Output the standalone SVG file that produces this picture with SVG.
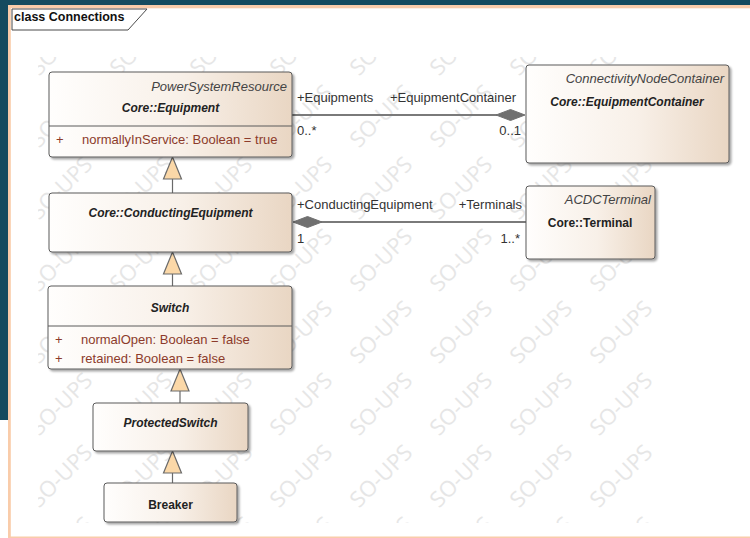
<svg xmlns="http://www.w3.org/2000/svg" xmlns:xlink="http://www.w3.org/1999/xlink" width="750" height="538" viewBox="0 0 750 538">
<style>
text{font-family:"Liberation Sans",Arial,sans-serif;}
.wm{font-family:"Open Sans","Liberation Sans",sans-serif;font-size:22px;fill:#e6e6e6;}
.box{fill:url(#g);stroke:#5a5a5a;stroke-width:1;filter:url(#sh);}
.sep{stroke:#5a5a5a;stroke-width:1;}
.name{font-size:12px;font-weight:bold;font-style:italic;fill:#222;text-anchor:middle;}
.nameu{font-size:12px;font-weight:bold;fill:#222;text-anchor:middle;}
.par{font-size:13px;font-style:italic;fill:#444;text-anchor:end;}
.attr{font-size:13px;fill:#8c3b2b;}
.lbl{font-size:13px;fill:#333;}
.assoc{stroke:#7a7a7a;stroke-width:2;fill:none;}
.dia{fill:#707070;stroke:#707070;stroke-width:1;}
.gen{stroke:#6a6a6a;stroke-width:1.2;fill:none;}
.tri{fill:#fbd8a8;stroke:#6a6a6a;stroke-width:1.2;}
</style>
<defs>
<linearGradient id="g" x1="0" y1="0" x2="1" y2="0">
<stop offset="0" stop-color="#fffefd"/>
<stop offset="0.55" stop-color="#f8f0e8"/>
<stop offset="1" stop-color="#e9d6c3"/>
</linearGradient>
<filter id="sh" x="-10%" y="-10%" width="130%" height="140%">
<feDropShadow dx="2" dy="2" stdDeviation="1.3" flood-color="#000" flood-opacity="0.35"/>
</filter>
<clipPath id="wc"><rect x="38" y="57" width="627" height="466"/></clipPath>
<text id="wm" class="wm" x="0" y="0" text-anchor="middle" dominant-baseline="central" transform="rotate(-45)">SO-UPS</text>
</defs>
<rect x="0" y="0" width="750" height="538" fill="#ffffff"/>
<rect x="0" y="0" width="750" height="5" fill="#154b5f"/>
<rect x="0" y="0" width="8" height="420" fill="#154b5f"/>
<rect x="8" y="5" width="742" height="3.3" fill="#f9ccaa"/>
<rect x="8" y="5" width="2.8" height="533" fill="#f9ccaa"/>
<rect x="8" y="536.5" width="742" height="1.5" fill="#f9ccaa"/>
<g id="frame">
<path d="M12,9 H147 L128,30 H12 Z" fill="#ffffff" stroke="#4a4a4a" stroke-width="1"/>
<text x="14" y="21" font-size="12.5" font-weight="bold" fill="#111">class Connections</text>
</g>
<g id="watermark" clip-path="url(#wc)">
<use xlink:href="#wm" x="60" y="43"/><use xlink:href="#wm" x="140" y="43"/><use xlink:href="#wm" x="220" y="43"/><use xlink:href="#wm" x="300" y="43"/><use xlink:href="#wm" x="380" y="43"/><use xlink:href="#wm" x="460" y="43"/><use xlink:href="#wm" x="540" y="43"/><use xlink:href="#wm" x="620" y="43"/>
<use xlink:href="#wm" x="60" y="115"/><use xlink:href="#wm" x="140" y="115"/><use xlink:href="#wm" x="220" y="115"/><use xlink:href="#wm" x="300" y="115"/><use xlink:href="#wm" x="380" y="115"/><use xlink:href="#wm" x="460" y="115"/><use xlink:href="#wm" x="540" y="115"/><use xlink:href="#wm" x="620" y="115"/>
<use xlink:href="#wm" x="60" y="187"/><use xlink:href="#wm" x="140" y="187"/><use xlink:href="#wm" x="220" y="187"/><use xlink:href="#wm" x="300" y="187"/><use xlink:href="#wm" x="380" y="187"/><use xlink:href="#wm" x="460" y="187"/><use xlink:href="#wm" x="540" y="187"/><use xlink:href="#wm" x="620" y="187"/>
<use xlink:href="#wm" x="60" y="259"/><use xlink:href="#wm" x="140" y="259"/><use xlink:href="#wm" x="220" y="259"/><use xlink:href="#wm" x="300" y="259"/><use xlink:href="#wm" x="380" y="259"/><use xlink:href="#wm" x="460" y="259"/><use xlink:href="#wm" x="540" y="259"/><use xlink:href="#wm" x="620" y="259"/>
<use xlink:href="#wm" x="60" y="331"/><use xlink:href="#wm" x="140" y="331"/><use xlink:href="#wm" x="220" y="331"/><use xlink:href="#wm" x="300" y="331"/><use xlink:href="#wm" x="380" y="331"/><use xlink:href="#wm" x="460" y="331"/><use xlink:href="#wm" x="540" y="331"/><use xlink:href="#wm" x="620" y="331"/>
<use xlink:href="#wm" x="60" y="403"/><use xlink:href="#wm" x="140" y="403"/><use xlink:href="#wm" x="220" y="403"/><use xlink:href="#wm" x="300" y="403"/><use xlink:href="#wm" x="380" y="403"/><use xlink:href="#wm" x="460" y="403"/><use xlink:href="#wm" x="540" y="403"/><use xlink:href="#wm" x="620" y="403"/>
<use xlink:href="#wm" x="60" y="475"/><use xlink:href="#wm" x="140" y="475"/><use xlink:href="#wm" x="220" y="475"/><use xlink:href="#wm" x="300" y="475"/><use xlink:href="#wm" x="380" y="475"/><use xlink:href="#wm" x="460" y="475"/><use xlink:href="#wm" x="540" y="475"/><use xlink:href="#wm" x="620" y="475"/>
<use xlink:href="#wm" x="60" y="547"/><use xlink:href="#wm" x="140" y="547"/><use xlink:href="#wm" x="220" y="547"/><use xlink:href="#wm" x="300" y="547"/><use xlink:href="#wm" x="380" y="547"/><use xlink:href="#wm" x="460" y="547"/><use xlink:href="#wm" x="540" y="547"/><use xlink:href="#wm" x="620" y="547"/>
</g>
<g id="connectors">
<line class="assoc" x1="292" y1="115" x2="497" y2="115"/>
<polygon class="dia" points="496,115 510.5,109.5 525,115 510.5,120.5"/>
<text class="lbl" x="297" y="102">+Equipments</text>
<text class="lbl" x="516" y="102" text-anchor="end">+EquipmentContainer</text>
<text class="lbl" x="297" y="135">0..*</text>
<text class="lbl" x="521" y="135" text-anchor="end">0..1</text>
<line class="assoc" x1="320" y1="222" x2="526" y2="222"/>
<polygon class="dia" points="293,222 307.5,216.5 322,222 307.5,227.5"/>
<text class="lbl" x="297" y="209">+ConductingEquipment</text>
<text class="lbl" x="522" y="209" text-anchor="end">+Terminals</text>
<text class="lbl" x="297" y="243">1</text>
<text class="lbl" x="520" y="243" text-anchor="end">1..*</text>
<line class="gen" x1="172.5" y1="179" x2="172.5" y2="193"/>
<polygon class="tri" points="172.5,157 181.5,179 163.5,179"/>
<line class="gen" x1="172.5" y1="274" x2="172.5" y2="286"/>
<polygon class="tri" points="172.5,252 181.5,274 163.5,274"/>
<line class="gen" x1="180" y1="391" x2="180" y2="403"/>
<polygon class="tri" points="180,369 189,391 171,391"/>
<line class="gen" x1="172.5" y1="473" x2="172.5" y2="483"/>
<polygon class="tri" points="172.5,451 181.5,473 163.5,473"/>
</g>
<g id="equipment">
<rect class="box" x="49" y="72" width="243" height="85" rx="3"/>
<line class="sep" x1="49" y1="126" x2="292" y2="126"/>
<text class="par" x="287" y="90.5">PowerSystemResource</text>
<text class="name" x="170.5" y="112">Core::Equipment</text>
<text class="attr" x="56" y="144">+</text>
<text class="attr" x="82" y="144">normallyInService: Boolean = true</text>
</g>
<g id="equipmentContainer">
<rect class="box" x="526" y="65" width="203" height="98" rx="3"/>
<text class="par" x="724" y="82.5">ConnectivityNodeContainer</text>
<text class="name" x="627" y="105.5">Core::EquipmentContainer</text>
</g>
<g id="conductingEquipment">
<rect class="box" x="49" y="193" width="243" height="59" rx="3"/>
<text class="name" x="170.5" y="217">Core::ConductingEquipment</text>
</g>
<g id="terminal">
<rect class="box" x="526" y="186" width="129" height="73" rx="3"/>
<text class="par" x="651" y="203.5">ACDCTerminal</text>
<text class="nameu" x="590" y="226.5">Core::Terminal</text>
</g>
<g id="switch">
<rect class="box" x="48" y="286" width="244" height="83" rx="3"/>
<line class="sep" x1="48" y1="326" x2="292" y2="326"/>
<text class="name" x="170" y="312">Switch</text>
<text class="attr" x="55" y="344">+</text>
<text class="attr" x="81" y="344">normalOpen: Boolean = false</text>
<text class="attr" x="55" y="362.5">+</text>
<text class="attr" x="81" y="362.5">retained: Boolean = false</text>
</g>
<g id="protectedSwitch">
<rect class="box" x="93" y="403" width="155" height="48" rx="3"/>
<text class="name" x="170.5" y="427">ProtectedSwitch</text>
</g>
<g id="breaker">
<rect class="box" x="104" y="483" width="133" height="39" rx="3"/>
<text class="nameu" x="170.5" y="509">Breaker</text>
</g>
</svg>
